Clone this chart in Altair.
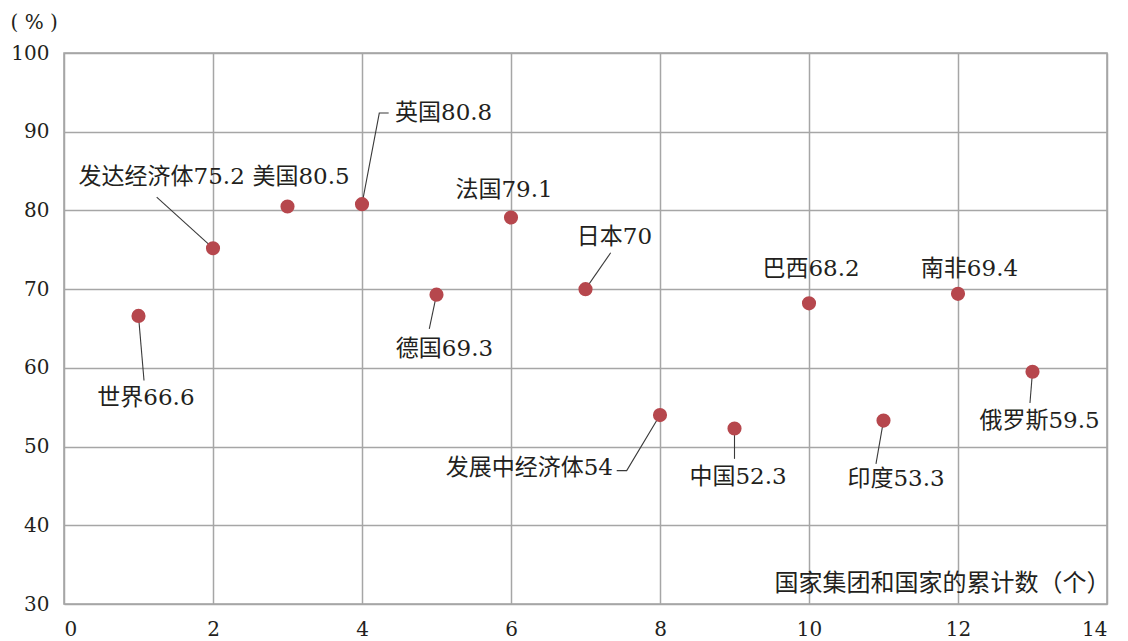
import altair as alt
import pandas as pd

# ---- data ----
names = ["世界", "发达经济体", "美国", "英国", "德国", "法国", "日本",
         "发展中经济体", "中国", "巴西", "印度", "南非", "俄罗斯"]
counts = [1, 2, 3, 4, 5, 6, 7, 8, 9, 10, 11, 12, 13]
values = [66.6, 75.2, 80.5, 80.8, 69.3, 79.1, 70, 54, 52.3, 68.2, 53.3, 69.4, 59.5]

# annotation placement (data coordinates) for each label
label_x = [1.10, 1.311, 3.181, 4.443, 5.107, 5.906, 7.389, 7.369, 9.047, 10.027, 11.168, 12.154, 13.094]
label_y = [56.19, 84.24, 84.24, 92.33, 62.42, 82.63, 76.61, 47.29, 46.10, 72.59, 45.89, 72.59, 53.31]
label_align = ["center", "center", "center", "left", "center", "center", "center",
               "right", "center", "center", "center", "center", "center"]

# leader lines: label index -> polyline points after the data point (data coordinates)
leaders = {
    0: [(1.074, 58.39)],
    1: [(1.244, 81.69)],
    3: [(4.232, 92.37), (4.358, 92.37)],
    4: [(4.903, 64.96)],
    6: [(7.338, 74.62)],
    7: [(7.553, 46.95), (7.419, 46.95)],
    8: [(9.0, 48.44)],
    10: [(10.899, 47.80)],
    12: [(12.966, 55.53)],
}

x_ticks = [0, 2, 4, 6, 8, 10, 12, 14]
y_ticks = [30, 40, 50, 60, 70, 80, 90, 100]

FONT = "DejaVu Serif, Noto Sans CJK SC"
TEXT_COLOR = "#231f20"
FS = 23
TICK_FS = 20

pts = pd.DataFrame({"name": names, "x": counts, "y": values})
labels = pd.DataFrame({
    "label": [f"{n}{v:g}" for n, v in zip(names, values)],
    "x": label_x, "y": label_y, "align": label_align,
})
rows = []
for i, path in leaders.items():
    rows.append({"id": i, "order": 0, "x": counts[i], "y": values[i]})
    for k, (px, py) in enumerate(path, start=1):
        rows.append({"id": i, "order": k, "x": px, "y": py})
lines = pd.DataFrame(rows)

xs = alt.Scale(domain=[0, 14], nice=False, zero=False)
ys = alt.Scale(domain=[30, 100], nice=False, zero=False)

x_axis = alt.Axis(values=x_ticks, title="国家集团和国家的累计数（个）",
                  titleX=1046, titleY=-21, titleAlign="right", titleBaseline="middle",
                  titleFontSize=24, labelPadding=15, labelBaseline="top")
y_axis = alt.Axis(values=y_ticks, title="( % )", titleAngle=0,
                  titleX=-54, titleY=-31, titleAlign="left", titleBaseline="middle",
                  titleFontSize=20, labelPadding=15)

X = alt.X("x:Q", scale=xs, axis=x_axis)
Y = alt.Y("y:Q", scale=ys, axis=y_axis)

line_layer = alt.Chart(lines).mark_line(color="#3a3a3a", strokeWidth=1.1).encode(
    x=X, y=Y, detail="id:N", order="order:Q")

point_layer = alt.Chart(pts).mark_circle(size=200, color="#b6474d", opacity=1).encode(
    x=X, y=Y)

text_layers = []
for al in ["center", "left", "right"]:
    sub = labels[labels["align"] == al]
    text_layers.append(
        alt.Chart(sub).mark_text(align=al, baseline="middle", font=FONT,
                                 fontSize=FS, color=TEXT_COLOR).encode(
            x=X, y=Y, text="label:N"))

chart = alt.layer(line_layer, point_layer, *text_layers).properties(
    width=1043, height=551,
    autosize=alt.AutoSizeParams(type="none"),
    padding={"left": 56, "top": 45, "right": 13, "bottom": 40},
    background="white",
).configure_view(
    stroke="#a0a0a0", strokeWidth=1.5
).configure_axis(
    grid=True, gridColor="#a6a6a6", gridWidth=1.5,
    domain=False, ticks=False,
    labelFont=FONT, labelFontSize=TICK_FS, labelColor=TEXT_COLOR,
    titleFont=FONT, titleColor=TEXT_COLOR, titleFontWeight="normal",
)

chart.save("out.html", embed_options={"renderer": "svg", "actions": False})
